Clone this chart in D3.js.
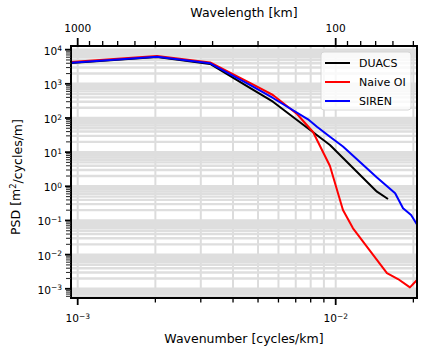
<!DOCTYPE html>
<html>
<head>
<meta charset="utf-8">
<script src="https://cdn.jsdelivr.net/npm/d3@7"></script>
<style>
  body { margin: 0; background: #fff; }
  text { font-family: 'DejaVu Sans', sans-serif; fill: #000; }
</style>
</head>
<body>
<svg id="chart" width="424" height="352"></svg>
<script>
// wavenumber [cycles/km] and PSD values
const kDuacs = [9.42e-4, 2.03e-3, 3.26e-3, 4.65e-3, 5.71e-3, 9.50e-3, 1.445e-2, 1.595e-2];
const psdDuacs = [4080, 6110, 3810, 756, 300, 16.2, 0.695, 0.425];

const kNaive = [9.42e-4, 2.03e-3, 3.26e-3, 4.65e-3, 5.71e-3, 7.08e-3, 8.17e-3, 9.50e-3, 1.067e-2, 1.167e-2, 1.58e-2, 1.744e-2, 1.94e-2, 2.066e-2];
const psdNaive = [4370, 6540, 4220, 1060, 471, 131, 38.9, 3.93, 0.202, 0.0589, 0.00289, 0.00193, 0.0011, 0.0018];

const kSiren = [9.42e-4, 2.03e-3, 3.26e-3, 4.65e-3, 5.71e-3, 7.81e-3, 8.46e-3, 9.50e-3, 1.067e-2, 1.445e-2, 1.70e-2, 1.824e-2, 1.96e-2, 2.066e-2];
const psdSiren = [4160, 6240, 4000, 925, 385, 91.6, 55.6, 28.3, 14.6, 1.81, 0.624, 0.227, 0.1445, 0.076];

const seriesNames = ['DUACS', 'Naive OI', 'SIREN'];
const seriesColors = ['#000000', '#ff0000', '#0000ff'];

const xTickMajor = [1e-3, 1e-2];
const yTickMajor = [1e-3, 1e-2, 1e-1, 1, 10, 100, 1000, 10000];
const yTickExp = ['\u22123', '\u22122', '\u22121', '0', '1', '2', '3', '4'];
const topTickMajor = [1000, 100];
const topTickMinor = [900, 800, 700, 600, 500, 400, 300, 200, 90, 80, 70, 60, 50];

const xDomain = [9.42e-4, 2.066e-2];
const yDomain = [5.37e-4, 1.28e4];

const margin = { top: 46, right: 7, bottom: 54, left: 71 };
const W = 424, H = 352;
const width = W - margin.left - margin.right;
const height = H - margin.top - margin.bottom;

const svg = d3.select('#chart');
const g = svg.append('g')
  .attr('transform', `translate(${margin.left},${margin.top})`);

const x = d3.scaleLog().domain(xDomain).range([0, width]);
const y = d3.scaleLog().domain(yDomain).range([height, 0]);
// top axis is wavelength = 1/wavenumber
const xTop = d3.scaleLog().domain([1 / xDomain[0], 1 / xDomain[1]]).range([0, width]);

// all log ticks (1..9 per decade) inside the domain
function logTicks (domain) {
  const out = [];
  for (let e = -5; e <= 5; e++) {
    for (let m = 1; m < 10; m++) {
      const v = m * Math.pow(10, e);
      if (v >= domain[0] && v <= domain[1]) out.push(v);
    }
  }
  return out;
}
const xAll = logTicks(xDomain);
const yAll = logTicks(yDomain);
const isMajor = v => Math.abs(Math.log10(v) - Math.round(Math.log10(v))) < 1e-9;

// grid, major and minor
const grid = g.append('g').attr('class', 'grid');
grid.selectAll('.gx')
  .data(xAll)
  .enter().append('line')
  .attr('x1', d => x(d)).attr('x2', d => x(d))
  .attr('y1', 0).attr('y2', height)
  .style('stroke', '#dcdcdc')
  .style('stroke-width', 2);
grid.selectAll('.gy')
  .data(yAll)
  .enter().append('line')
  .attr('y1', d => y(d)).attr('y2', d => y(d))
  .attr('x1', 0).attr('x2', width)
  .style('stroke', '#dedede')
  .style('stroke-width', 2.4);

// lines
const line = d3.line()
  .x(d => x(d[0]))
  .y(d => y(d[1]));

const series = [
  d3.zip(kDuacs, psdDuacs),
  d3.zip(kNaive, psdNaive),
  d3.zip(kSiren, psdSiren)
];

svg.append('clipPath').attr('id', 'clip')
  .append('rect').attr('width', width).attr('height', height);

g.append('g').attr('clip-path', 'url(#clip)')
  .selectAll('path')
  .data(series)
  .enter().append('path')
  .attr('d', line)
  .style('fill', 'none')
  .style('stroke', (d, i) => seriesColors[i])
  .style('stroke-width', 2)
  .style('stroke-linejoin', 'round');

// frame
g.append('rect')
  .attr('width', width)
  .attr('height', height)
  .style('fill', 'none')
  .style('stroke', '#000')
  .style('stroke-width', 2);

// bottom axis ticks
g.selectAll('.xtick')
  .data(xAll)
  .enter().append('line')
  .attr('x1', d => x(d)).attr('x2', d => x(d))
  .attr('y1', height).attr('y2', d => height + (isMajor(d) ? 7 : 4.5))
  .style('stroke', '#000')
  .style('stroke-width', d => isMajor(d) ? 1.8 : 1.3);

const xLab = g.selectAll('.xlab')
  .data(xTickMajor)
  .enter().append('text')
  .attr('x', d => x(d))
  .attr('y', height + 24)
  .attr('text-anchor', 'middle')
  .style('font-size', '10.6px');
xLab.append('tspan').text('10');
xLab.append('tspan')
  .attr('dy', '-0.45em')
  .style('font-size', '7.5px')
  .text(d => '\u2212' + Math.round(-Math.log10(d)));

// top axis (wavelength)
const topTicks = topTickMajor.concat(topTickMinor);
g.selectAll('.ttick')
  .data(topTicks)
  .enter().append('line')
  .attr('x1', d => xTop(d)).attr('x2', d => xTop(d))
  .attr('y1', 0).attr('y2', d => topTickMajor.includes(d) ? -8 : -5)
  .style('stroke', '#000')
  .style('stroke-width', d => topTickMajor.includes(d) ? 1.8 : 1.3);

g.selectAll('.tlab')
  .data(topTickMajor)
  .enter().append('text')
  .attr('x', d => xTop(d))
  .attr('y', -14)
  .attr('text-anchor', 'middle')
  .style('font-size', '10.6px')
  .text(d => d);

// left axis
g.selectAll('.ytick')
  .data(yAll)
  .enter().append('line')
  .attr('y1', d => y(d)).attr('y2', d => y(d))
  .attr('x1', 0).attr('x2', d => isMajor(d) ? -6 : -5)
  .style('stroke', d => isMajor(d) ? '#000' : '#333')
  .style('stroke-width', d => isMajor(d) ? 1.8 : 1.1);

const yLab = g.selectAll('.ylab')
  .data(yTickMajor)
  .enter().append('text')
  .attr('x', -9)
  .attr('y', d => y(d) + 5)
  .attr('text-anchor', 'end')
  .style('font-size', '10.6px');
yLab.append('tspan').text('10');
yLab.append('tspan')
  .attr('dy', '-0.45em')
  .style('font-size', '7.5px')
  .text((d, i) => yTickExp[i]);

// axis titles
svg.append('text')
  .attr('x', margin.left + width / 2)
  .attr('y', 343)
  .attr('text-anchor', 'middle')
  .style('font-size', '12.5px')
  .text('Wavenumber [cycles/km]');

svg.append('text')
  .attr('x', margin.left + width / 2)
  .attr('y', 17)
  .attr('text-anchor', 'middle')
  .style('font-size', '12.5px')
  .text('Wavelength [km]');

const yTitle = svg.append('text')
  .attr('transform', `translate(20,${margin.top + height / 2 + 5}) rotate(-90)`)
  .attr('text-anchor', 'middle')
  .style('font-size', '12.5px');
yTitle.append('tspan').text('PSD [m');
yTitle.append('tspan').attr('dy', '-0.45em').style('font-size', '8.5px').text('2');
yTitle.append('tspan').attr('dy', '0.45em').text('/cycles/m]');

// legend
const legend = g.append('g')
  .attr('transform', `translate(${width - 96},6)`);
legend.append('rect')
  .attr('width', 90)
  .attr('height', 58)
  .attr('rx', 3)
  .style('fill', 'rgba(255,255,255,0.8)')
  .style('stroke', '#d6d6d6')
  .style('stroke-width', 1);

const items = legend.selectAll('.item')
  .data(seriesNames)
  .enter().append('g')
  .attr('transform', (d, i) => `translate(0,${11 + i * 19})`);
items.append('line')
  .attr('x1', 4).attr('x2', 29)
  .style('stroke', (d, i) => seriesColors[i])
  .style('stroke-width', 2);
items.append('text')
  .attr('x', 38)
  .attr('y', 4)
  .style('font-size', '11px')
  .text(d => d);
</script>
</body>
</html>
